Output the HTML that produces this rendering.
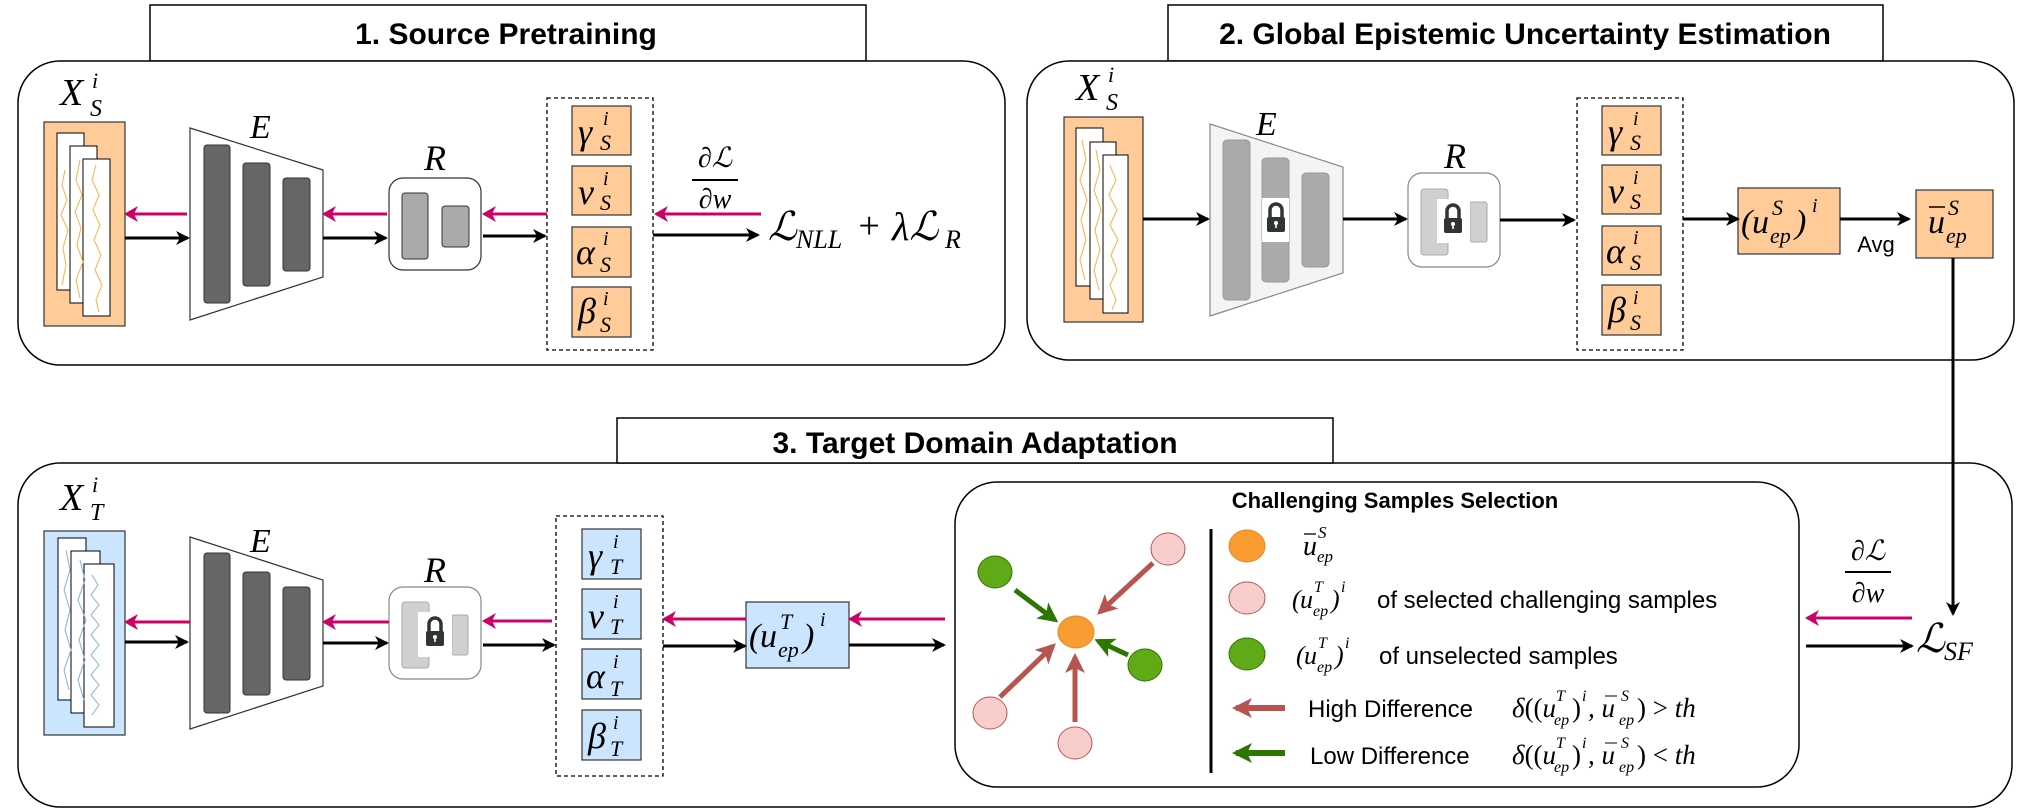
<!DOCTYPE html>
<html><head><meta charset="utf-8"><style>
body{margin:0;background:#fff}
svg{display:block}
.t{font-family:"Liberation Sans",sans-serif;font-weight:bold}
.s{font-family:"Liberation Sans",sans-serif}
.m{font-family:"Liberation Serif",serif;font-style:italic}
</style></head><body>
<svg width="2022" height="809" viewBox="0 0 2022 809" xmlns="http://www.w3.org/2000/svg">
<defs>
<marker id="ab" markerWidth="14" markerHeight="14" refX="12" refY="7" orient="auto" markerUnits="userSpaceOnUse"><path d="M0,0 L14,7 L0,14 L4,7 z" fill="#000"/></marker>
<marker id="ap" markerWidth="14" markerHeight="16" refX="12" refY="8" orient="auto" markerUnits="userSpaceOnUse"><path d="M0,0 L14,8 L0,16 L4,8 z" fill="#cc0066"/></marker>
<marker id="ar" markerWidth="20" markerHeight="20" refX="16" refY="10" orient="auto" markerUnits="userSpaceOnUse"><path d="M0,0 L20,10 L0,20 L5,10 z" fill="#b85450"/></marker>
<marker id="ag" markerWidth="20" markerHeight="20" refX="16" refY="10" orient="auto" markerUnits="userSpaceOnUse"><path d="M0,0 L20,10 L0,20 L5,10 z" fill="#2d7600"/></marker>
<g id="lock"><path d="M-6,0 v-7 a6,6 0 0 1 12,0 v7" stroke="#2f3437" stroke-width="3.5" fill="none"/><rect x="-9" y="0" width="18" height="15" rx="2" fill="#2f3437"/><circle cx="0" cy="6" r="2" fill="#fff"/><rect x="-0.8" y="6" width="1.6" height="5" fill="#fff"/></g>
</defs>

<!-- ===== Panel 1 ===== -->
<rect x="150" y="5" width="716" height="56" fill="#fff" stroke="#000" stroke-width="1.5"/>
<text class="t" x="506" y="44" font-size="30" text-anchor="middle">1. Source Pretraining</text>
<rect x="18" y="61" width="987" height="304" rx="42" fill="#fff" stroke="#000" stroke-width="1.5"/>

<text class="m" x="60" y="105" font-size="38">X</text><text class="m" x="92" y="88" font-size="22">i</text><text class="m" x="90" y="116" font-size="24">S</text>
<rect x="44" y="122" width="81" height="204" fill="#ffcc99" stroke="#333" stroke-width="1.2"/>
<rect x="57" y="133" width="27" height="157" fill="#fff" stroke="#000"/>
<rect x="70" y="146" width="27" height="157" fill="#fff" stroke="#000"/>
<rect x="83" y="159" width="27" height="157" fill="#fff" stroke="#000"/>
<g fill="none" stroke="#f5b342" stroke-width="1">
<polyline points="65,170 62,185 67,200 61,215 68,230 63,248 66,265 62,285"/>
<polyline points="80,160 76,180 82,195 75,212 81,228 77,245 83,262 76,280 80,298"/>
<polyline points="96,165 92,180 99,195 93,210 100,225 94,240 101,255 95,270 102,285 96,300 99,312"/>
</g>
<polygon points="190,128 323,170 323,277 190,320" fill="#fff" stroke="#333" stroke-width="1.2"/>
<text class="m" x="250" y="138" font-size="34">E</text>
<rect x="204" y="145" width="26" height="158" rx="3" fill="#666" stroke="#333"/>
<rect x="243" y="163" width="27" height="123" rx="3" fill="#666" stroke="#333"/>
<rect x="283" y="178" width="27" height="93" rx="3" fill="#666" stroke="#333"/>
<text class="m" x="424" y="170" font-size="36">R</text>
<rect x="389" y="178" width="92" height="92" rx="14" fill="#fff" stroke="#333" stroke-width="1.2"/>
<rect x="402" y="193" width="26" height="66" rx="3" fill="#aaa" stroke="#333"/>
<rect x="442" y="206" width="27" height="41" rx="3" fill="#aaa" stroke="#333"/>
<rect x="547" y="98" width="106" height="252" fill="none" stroke="#000" stroke-width="1.3" stroke-dasharray="4,3"/>
<g fill="#ffcc99" stroke="#333" stroke-width="1.2">
<rect x="572" y="106" width="59" height="49"/><rect x="572" y="166" width="59" height="49"/><rect x="572" y="227" width="59" height="50"/><rect x="572" y="287" width="59" height="50"/></g>
<g class="m">
<text x="578" y="144" font-size="36">γ</text><text x="603" y="125" font-size="20">i</text><text x="600" y="150" font-size="22">S</text>
<text x="578" y="204" font-size="36">ν</text><text x="603" y="185" font-size="20">i</text><text x="600" y="210" font-size="22">S</text>
<text x="576" y="264" font-size="36">α</text><text x="603" y="245" font-size="20">i</text><text x="600" y="272" font-size="22">S</text>
<text x="578" y="323" font-size="36">β</text><text x="603" y="305" font-size="20">i</text><text x="600" y="332" font-size="22">S</text>
</g>
<g stroke="#cc0066" stroke-width="3" marker-end="url(#ap)">
<line x1="187" y1="214" x2="126" y2="214"/><line x1="387" y1="214" x2="324" y2="214"/><line x1="547" y1="214" x2="484" y2="214"/><line x1="761" y1="214" x2="656" y2="214"/></g>
<g stroke="#000" stroke-width="3" marker-end="url(#ab)">
<line x1="125" y1="238" x2="188" y2="238"/><line x1="323" y1="238" x2="386" y2="238"/><line x1="483" y1="236" x2="545" y2="236"/><line x1="653" y1="235" x2="758" y2="235"/></g>
<text class="m" x="715" y="167" font-size="28" text-anchor="middle">∂ℒ</text>
<line x1="692" y1="180" x2="738" y2="180" stroke="#000" stroke-width="2"/>
<text class="m" x="715" y="208" font-size="28" text-anchor="middle">∂w</text>
<text class="m" x="768" y="240" font-size="40">ℒ</text><text class="m" x="796" y="248" font-size="26">NLL</text>
<text class="m" x="856" y="238" font-size="38" font-style="normal">+</text>
<text class="m" x="892" y="240" font-size="40">λℒ</text><text class="m" x="945" y="248" font-size="26">R</text>

<!-- ===== Panel 2 ===== -->
<rect x="1168" y="5" width="715" height="56" fill="#fff" stroke="#000" stroke-width="1.5"/>
<text class="t" x="1525" y="44" font-size="30" text-anchor="middle">2. Global Epistemic Uncertainty Estimation</text>
<rect x="1027" y="61" width="987" height="299" rx="42" fill="#fff" stroke="#000" stroke-width="1.5"/>
<text class="m" x="1076" y="100" font-size="38">X</text><text class="m" x="1108" y="82" font-size="22">i</text><text class="m" x="1106" y="110" font-size="24">S</text>
<rect x="1064" y="117" width="79" height="205" fill="#ffcc99" stroke="#333" stroke-width="1.2"/>
<rect x="1076" y="128" width="27" height="158" fill="#fff" stroke="#000"/>
<rect x="1090" y="142" width="26" height="157" fill="#fff" stroke="#000"/>
<rect x="1103" y="155" width="25" height="158" fill="#fff" stroke="#000"/>
<g fill="none" stroke="#f5b342" stroke-width="1">
<polyline points="1082,140 1086,160 1080,180 1087,200 1081,220 1086,240 1080,260 1085,280"/>
<polyline points="1096,150 1100,170 1094,190 1101,210 1095,230 1100,250 1094,270 1099,290"/>
<polyline points="1110,165 1116,180 1109,195 1117,210 1110,225 1118,240 1111,255 1117,270 1110,285 1116,300 1112,310"/>
</g>
<polygon points="1210,124 1343,167 1343,273 1210,316" fill="#f4f4f4" stroke="#888" stroke-width="1.2"/>
<text class="m" x="1256" y="135" font-size="34">E</text>
<rect x="1223" y="140" width="27" height="160" rx="4" fill="#aaa" stroke="#999"/>
<rect x="1262" y="158" width="27" height="124" rx="4" fill="#aaa" stroke="#999"/>
<rect x="1302" y="173" width="27" height="94" rx="4" fill="#aaa" stroke="#999"/>
<rect x="1262" y="198" width="27" height="44" fill="#fff"/>
<use href="#lock" x="1276" y="217"/>
<text class="m" x="1444" y="168" font-size="36">R</text>
<rect x="1408" y="173" width="92" height="94" rx="14" fill="#fff" stroke="#888" stroke-width="1.2"/>
<rect x="1421" y="189" width="27" height="66" rx="3" fill="#d0d0d0" stroke="#aaa"/>
<rect x="1470" y="202" width="17" height="40" rx="2" fill="#d0d0d0" stroke="#aaa"/>
<rect x="1437" y="199" width="33" height="44" fill="#fff"/>
<use href="#lock" x="1453" y="218"/>
<rect x="1577" y="98" width="106" height="252" fill="none" stroke="#000" stroke-width="1.3" stroke-dasharray="4,3"/>
<g fill="#ffcc99" stroke="#333" stroke-width="1.2">
<rect x="1602" y="106" width="59" height="49"/><rect x="1602" y="165" width="59" height="49"/><rect x="1602" y="226" width="59" height="49"/><rect x="1602" y="285" width="59" height="50"/></g>
<g class="m">
<text x="1608" y="144" font-size="36">γ</text><text x="1633" y="125" font-size="20">i</text><text x="1630" y="150" font-size="22">S</text>
<text x="1608" y="203" font-size="36">ν</text><text x="1633" y="184" font-size="20">i</text><text x="1630" y="209" font-size="22">S</text>
<text x="1606" y="263" font-size="36">α</text><text x="1633" y="244" font-size="20">i</text><text x="1630" y="270" font-size="22">S</text>
<text x="1608" y="322" font-size="36">β</text><text x="1633" y="304" font-size="20">i</text><text x="1630" y="330" font-size="22">S</text>
</g>
<rect x="1738" y="188" width="102" height="66" fill="#ffcc99" stroke="#333" stroke-width="1.2"/>
<text class="m" x="1741" y="233" font-size="34" font-style="normal">(</text><text class="m" x="1752" y="233" font-size="34">u</text>
<text class="m" x="1772" y="215" font-size="22">S</text><text class="m" x="1770" y="243" font-size="22">ep</text>
<text class="m" x="1795" y="233" font-size="34" font-style="normal">)</text><text class="m" x="1812" y="212" font-size="20">i</text>
<text class="s" x="1876" y="252" font-size="22" text-anchor="middle">Avg</text>
<rect x="1916" y="190" width="77" height="68" fill="#ffcc99" stroke="#333" stroke-width="1.2"/>
<text class="m" x="1928" y="233" font-size="34">u</text><line x1="1929" y1="207" x2="1945" y2="207" stroke="#000" stroke-width="1.5"/>
<text class="m" x="1948" y="215" font-size="22">S</text><text class="m" x="1946" y="243" font-size="22">ep</text>
<g stroke="#000" stroke-width="3" marker-end="url(#ab)">
<line x1="1143" y1="219" x2="1208" y2="219"/><line x1="1343" y1="219" x2="1406" y2="219"/><line x1="1500" y1="220" x2="1574" y2="220"/><line x1="1683" y1="219" x2="1738" y2="219"/><line x1="1840" y1="219" x2="1909" y2="219"/>
</g>

<!-- ===== Panel 3 ===== -->
<rect x="18" y="463" width="1994" height="344" rx="42" fill="#fff" stroke="#000" stroke-width="1.5"/>
<rect x="617" y="418" width="716" height="45" fill="#fff" stroke="#000" stroke-width="1.5"/>
<text class="t" x="975" y="453" font-size="30" text-anchor="middle">3. Target Domain Adaptation</text>
<line x1="1953" y1="258" x2="1953" y2="614" stroke="#000" stroke-width="3" marker-end="url(#ab)"/>

<text class="m" x="60" y="510" font-size="38">X</text><text class="m" x="92" y="492" font-size="22">i</text><text class="m" x="90" y="520" font-size="24">T</text>
<rect x="44" y="531" width="81" height="204" fill="#cce5ff" stroke="#333" stroke-width="1.2"/>
<rect x="58" y="538" width="28" height="162" fill="#fff" stroke="#000"/>
<rect x="71" y="551" width="29" height="162" fill="#fff" stroke="#000"/>
<rect x="84" y="564" width="30" height="163" fill="#fff" stroke="#000"/>
<g fill="none" stroke="#7fb2dd" stroke-width="1">
<polyline points="66,550 70,570 64,590 70,610 65,630 71,650 64,670 69,690"/>
<polyline points="80,560 85,580 78,600 86,620 79,640 85,660 78,680 84,700"/>
<polyline points="92,575 98,585 91,595 99,605 91,615 99,625 91,635 99,645 91,655 99,665 91,675 99,685 91,695 99,705 92,715"/>
</g>
<polygon points="190,537 323,580 323,686 190,729" fill="#fff" stroke="#333" stroke-width="1.2"/>
<text class="m" x="250" y="552" font-size="34">E</text>
<rect x="204" y="553" width="26" height="160" rx="3" fill="#666" stroke="#333"/>
<rect x="243" y="572" width="27" height="123" rx="3" fill="#666" stroke="#333"/>
<rect x="283" y="587" width="27" height="93" rx="3" fill="#666" stroke="#333"/>
<text class="m" x="424" y="582" font-size="36">R</text>
<rect x="389" y="587" width="92" height="92" rx="14" fill="#fff" stroke="#888" stroke-width="1.2"/>
<rect x="402" y="602" width="27" height="66" rx="3" fill="#d0d0d0" stroke="#aaa"/>
<rect x="452" y="615" width="16" height="40" rx="2" fill="#d0d0d0" stroke="#aaa"/>
<rect x="418" y="612" width="34" height="45" fill="#fff"/>
<use href="#lock" x="435" y="631"/>
<rect x="556" y="516" width="107" height="260" fill="none" stroke="#000" stroke-width="1.3" stroke-dasharray="4,3"/>
<g fill="#cce5ff" stroke="#333" stroke-width="1.2">
<rect x="582" y="529" width="59" height="50"/><rect x="582" y="589" width="59" height="50"/><rect x="582" y="649" width="59" height="50"/><rect x="582" y="710" width="59" height="50"/></g>
<g class="m">
<text x="588" y="568" font-size="36">γ</text><text x="613" y="548" font-size="20">i</text><text x="610" y="574" font-size="22">T</text>
<text x="588" y="628" font-size="36">ν</text><text x="613" y="608" font-size="20">i</text><text x="610" y="634" font-size="22">T</text>
<text x="586" y="688" font-size="36">α</text><text x="613" y="668" font-size="20">i</text><text x="610" y="696" font-size="22">T</text>
<text x="588" y="748" font-size="36">β</text><text x="613" y="729" font-size="20">i</text><text x="610" y="756" font-size="22">T</text>
</g>
<rect x="746" y="602" width="103" height="66" fill="#cce5ff" stroke="#333" stroke-width="1.2"/>
<text class="m" x="749" y="647" font-size="34" font-style="normal">(</text><text class="m" x="760" y="647" font-size="34">u</text>
<text class="m" x="780" y="629" font-size="22">T</text><text class="m" x="778" y="657" font-size="22">ep</text>
<text class="m" x="803" y="647" font-size="34" font-style="normal">)</text><text class="m" x="820" y="626" font-size="20">i</text>
<g stroke="#cc0066" stroke-width="3" marker-end="url(#ap)">
<line x1="190" y1="622" x2="126" y2="622"/><line x1="389" y1="622" x2="324" y2="622"/><line x1="552" y1="621" x2="484" y2="621"/><line x1="746" y1="619" x2="664" y2="619"/><line x1="945" y1="619" x2="850" y2="619"/><line x1="1912" y1="618" x2="1807" y2="618"/></g>
<g stroke="#000" stroke-width="3" marker-end="url(#ab)">
<line x1="125" y1="642" x2="187" y2="642"/><line x1="323" y1="643" x2="387" y2="643"/><line x1="483" y1="645" x2="554" y2="645"/><line x1="663" y1="646" x2="745" y2="646"/><line x1="849" y1="645" x2="944" y2="645"/><line x1="1806" y1="646" x2="1912" y2="646"/></g>

<!-- Challenging box -->
<rect x="955" y="482" width="844" height="305" rx="42" fill="#fff" stroke="#000" stroke-width="1.5"/>
<text class="t" x="1395" y="508" font-size="22" text-anchor="middle">Challenging Samples Selection</text>
<line x1="1211" y1="529" x2="1211" y2="773" stroke="#000" stroke-width="3"/>
<line x1="1015" y1="590" x2="1055" y2="620" stroke="#2d7600" stroke-width="5" marker-end="url(#ag)"/>
<line x1="1153" y1="563" x2="1100" y2="612" stroke="#b85450" stroke-width="5" marker-end="url(#ar)"/>
<line x1="1128" y1="655" x2="1098" y2="641" stroke="#2d7600" stroke-width="5" marker-end="url(#ag)"/>
<line x1="1000" y1="697" x2="1053" y2="646" stroke="#b85450" stroke-width="5" marker-end="url(#ar)"/>
<line x1="1075" y1="722" x2="1075" y2="657" stroke="#b85450" stroke-width="5" marker-end="url(#ar)"/>
<ellipse cx="995" cy="572" rx="17" ry="16" fill="#60a917" stroke="#2d7600"/>
<ellipse cx="1168" cy="549" rx="17" ry="16" fill="#f8cecc" stroke="#b85450"/>
<ellipse cx="1145" cy="665" rx="17" ry="16" fill="#60a917" stroke="#2d7600"/>
<ellipse cx="990" cy="713" rx="17" ry="16" fill="#f8cecc" stroke="#b85450"/>
<ellipse cx="1075" cy="743" rx="17" ry="16" fill="#f8cecc" stroke="#b85450"/>
<ellipse cx="1076" cy="632" rx="18" ry="16" fill="#f99c32" stroke="#e08a1e"/>
<!-- legend -->
<ellipse cx="1247" cy="546" rx="18" ry="16" fill="#f99c32" stroke="#e08a1e"/>
<ellipse cx="1247" cy="598" rx="18" ry="16" fill="#f8cecc" stroke="#b85450"/>
<ellipse cx="1247" cy="654" rx="18" ry="16" fill="#60a917" stroke="#2d7600"/>
<text class="m" x="1303" y="555" font-size="28">u</text><line x1="1304" y1="534" x2="1316" y2="534" stroke="#000" stroke-width="1.3"/>
<text class="m" x="1318" y="538" font-size="17">S</text><text class="m" x="1317" y="562" font-size="17">ep</text>
<text class="m" x="1292" y="608" font-size="26" font-style="normal">(</text><text class="m" x="1300" y="608" font-size="26">u</text>
<text class="m" x="1314" y="592" font-size="16">T</text><text class="m" x="1313" y="616" font-size="16">ep</text>
<text class="m" x="1331" y="608" font-size="26" font-style="normal">)</text><text class="m" x="1341" y="592" font-size="16">i</text>
<text class="s" x="1377" y="608" font-size="24">of selected challenging samples</text>
<text class="m" x="1296" y="664" font-size="26" font-style="normal">(</text><text class="m" x="1304" y="664" font-size="26">u</text>
<text class="m" x="1318" y="648" font-size="16">T</text><text class="m" x="1317" y="672" font-size="16">ep</text>
<text class="m" x="1335" y="664" font-size="26" font-style="normal">)</text><text class="m" x="1345" y="648" font-size="16">i</text>
<text class="s" x="1379" y="664" font-size="24">of unselected samples</text>
<line x1="1285" y1="708" x2="1236" y2="708" stroke="#b85450" stroke-width="6" marker-end="url(#ar)"/>
<line x1="1285" y1="753" x2="1236" y2="753" stroke="#2d7600" stroke-width="6" marker-end="url(#ag)"/>
<text class="s" x="1308" y="717" font-size="24">High Difference</text>
<text class="s" x="1310" y="764" font-size="24">Low Difference</text>
<g class="m">
<text x="1512" y="717" font-size="27">δ<tspan font-style="normal">((</tspan>u</text>
<text x="1556" y="701" font-size="16">T</text><text x="1554" y="725" font-size="16">ep</text>
<text x="1572" y="717" font-size="27" font-style="normal">)</text><text x="1582" y="701" font-size="16">i</text>
<text x="1588" y="717" font-size="27">, u</text><line x1="1605" y1="696" x2="1617" y2="696" stroke="#000"/>
<text x="1621" y="701" font-size="16">S</text><text x="1619" y="725" font-size="16">ep</text>
<text x="1637" y="717" font-size="27"><tspan font-style="normal">) &gt; </tspan>th</text>
<text x="1512" y="764" font-size="27">δ<tspan font-style="normal">((</tspan>u</text>
<text x="1556" y="748" font-size="16">T</text><text x="1554" y="772" font-size="16">ep</text>
<text x="1572" y="764" font-size="27" font-style="normal">)</text><text x="1582" y="748" font-size="16">i</text>
<text x="1588" y="764" font-size="27">, u</text><line x1="1605" y1="743" x2="1617" y2="743" stroke="#000"/>
<text x="1621" y="748" font-size="16">S</text><text x="1619" y="772" font-size="16">ep</text>
<text x="1637" y="764" font-size="27"><tspan font-style="normal">) &lt; </tspan>th</text>
</g>
<text class="m" x="1868" y="560" font-size="28" text-anchor="middle">∂ℒ</text>
<line x1="1845" y1="572" x2="1891" y2="572" stroke="#000" stroke-width="2"/>
<text class="m" x="1868" y="602" font-size="28" text-anchor="middle">∂w</text>
<text class="m" x="1916" y="652" font-size="40">ℒ</text><text class="m" x="1944" y="660" font-size="26">SF</text>
</svg>
</body></html>
